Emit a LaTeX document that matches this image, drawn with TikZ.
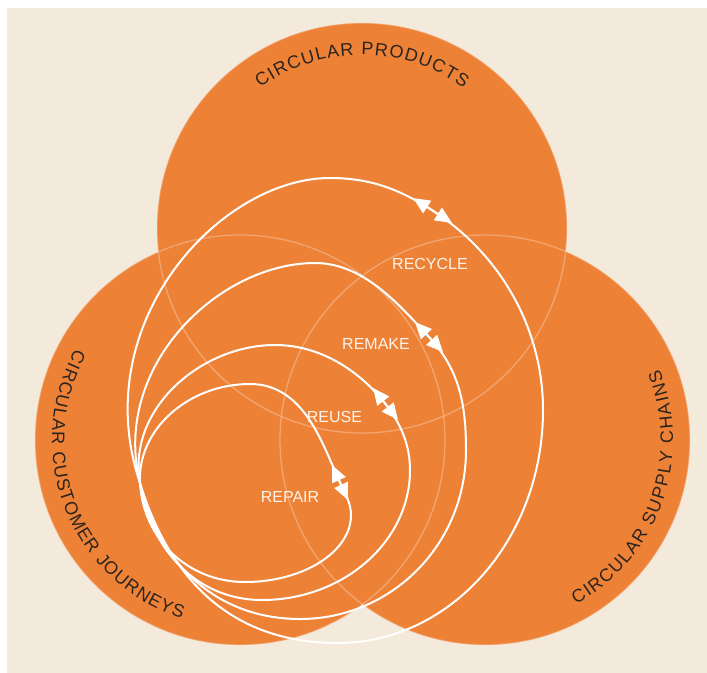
\documentclass[tikz,border=0pt]{standalone}
\usepackage{fontspec}
\setmainfont{Liberation Sans}
\usetikzlibrary{decorations.text,arrows.meta,calc}
\definecolor{beige}{HTML}{F3EADC}
\definecolor{orng}{HTML}{ED8237}
\definecolor{ink}{HTML}{2A2420}
\definecolor{cream}{HTML}{FDF3EA}
\begin{document}
\begin{tikzpicture}[x=0.75pt,y=0.75pt,
  loopline/.style={draw=white, line width=1.5pt, line join=round, line cap=round},
  dblarrow/.style={draw=white, line width=1.5pt, {Triangle[length=12.5pt,width=11pt,fill=white]}-{Triangle[length=12.5pt,width=11pt,fill=white]}},
  stage/.style={text=cream, font=\fontsize{12}{14}\selectfont, inner sep=0pt},
  rim/.style={draw=white, draw opacity=0.28, line width=1pt},
  disc/.style={fill=orng},
  arclabel/.style={decorate, decoration={text along path, text align={fit to path},
     text={|\fontsize{13.5}{16}\selectfont\color{ink}|#1}}}
]
\useasboundingbox (0,0) rectangle (707,-672);
\begin{scope}[overlay]
\fill[white] (-20,20) rectangle (730,-700);
\fill[beige] (7,-8) rectangle (730,-700);

\coordinate (ctop) at (362,-228);
\coordinate (cleft) at (240,-440);
\coordinate (cright) at (485,-440);

\fill[disc] (ctop) circle[radius=205];
\fill[disc] (cleft) circle[radius=205];
\fill[disc] (cright) circle[radius=205];

\begin{scope}
\clip (ctop) circle[radius=205] (cleft) circle[radius=205] (cright) circle[radius=205];
\draw[rim] (ctop) circle[radius=205];
\draw[rim] (cleft) circle[radius=205];
\draw[rim] (cright) circle[radius=205];
\end{scope}

% curved labels
\path[arclabel={CIRCULAR PRODUCTS}] ($(ctop)+(126:173)$) arc[start angle=126, end angle=54, radius=173];
\path[arclabel={CIRCULAR CUSTOMER JOURNEYS}] ($(cleft)+(151:188)$) arc[start angle=151, end angle=252, radius=188];
\path[arclabel={CIRCULAR SUPPLY CHAINS}] ($(cright)+(-61:188)$) arc[start angle=-61, end angle=22, radius=188];

% loops
\coordinate (P) at (140,-483);
\draw[loopline] (P) .. controls (86,-323) and (220,-178) .. (330,-178)
  .. controls (370,-178) and (399,-189) .. (432.5,-210.5)
  .. controls (500.7,-254.2) and (543,-329) .. (543,-410)
  .. controls (543,-540) and (450,-643) .. (338,-643)
  .. controls (228,-643) and (168.5,-575.6) .. (P);
\draw[loopline] (P) .. controls (111,-366) and (219,-263) .. (315,-263)
  .. controls (365,-263) and (401.7,-307.8) .. (429,-337)
  .. controls (459.7,-369.9) and (466,-405) .. (466,-450)
  .. controls (466,-545) and (391,-619) .. (300,-619)
  .. controls (212,-619) and (156,-557) .. (P);
\draw[loopline] (P) .. controls (127,-409) and (201,-345) .. (275,-345)
  .. controls (325,-345) and (364,-376) .. (385.5,-404)
  .. controls (401,-424) and (410,-445) .. (410,-470)
  .. controls (410,-542) and (343,-600) .. (262,-600)
  .. controls (195,-600) and (149.5,-547) .. (P);
\draw[loopline] (P) .. controls (137,-430) and (188,-384) .. (250,-384)
  .. controls (305,-384) and (323,-446) .. (340,-482.5)
  .. controls (345,-493.4) and (351,-503) .. (351,-515)
  .. controls (351,-552) and (303,-582) .. (245,-582)
  .. controls (187,-582) and (143,-538) .. (P);

% double arrows
\coordinate (r1a) at (413.1,-198.1); \coordinate (r1b) at (451.9,-222.9);
\coordinate (r2a) at (415,-322);     \coordinate (r2b) at (443,-352);
\coordinate (r3a) at (373,-388);     \coordinate (r3b) at (398,-420);
\coordinate (r4a) at (332,-465);     \coordinate (r4b) at (348,-500);
\draw[dblarrow] (r1a) -- (r1b);
\draw[dblarrow] (r2a) -- (r2b);
\draw[dblarrow] (r3a) -- (r3b);
\draw[dblarrow] (r4a) -- (r4b);

% stage labels
\node[stage] (recycle) at (430,-263.5) {RECYCLE};
\node[stage] (remake) at (376,-344) {REMAKE};
\node[stage] (reuse) at (334.5,-416.5) {REUSE};
\node[stage] (repair) at (290,-496.5) {REPAIR};
\end{scope}
\end{tikzpicture}
\end{document}
